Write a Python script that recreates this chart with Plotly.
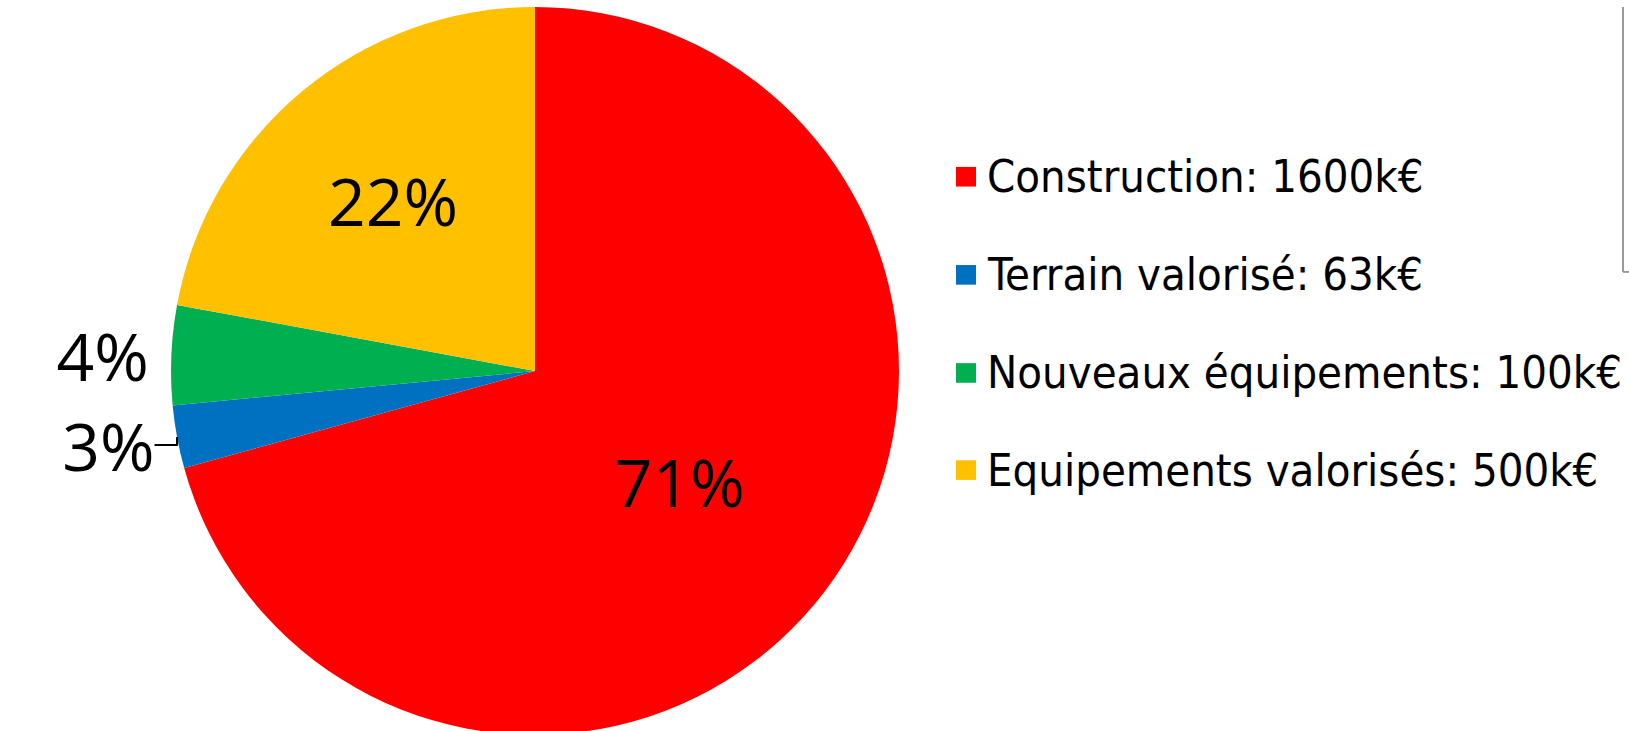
import plotly.graph_objects as go

categories = ["Construction", "Terrain valorisé", "Nouveaux équipements", "Equipements valorisés"]
values_keur = [1600, 63, 100, 500]
colors = ["#FF0000", "#0070C0", "#00B050", "#FFC000"]
label_positions = ["inside", "outside", "outside", "inside"]

W, H = 1629, 742

fig = go.Figure()
fig.add_trace(go.Pie(
    labels=categories,
    values=values_keur,
    sort=False,
    direction="clockwise",
    rotation=0,
    marker=dict(colors=colors, line=dict(width=0)),
    texttemplate="%{percent:.0%}",
    textposition=label_positions,
    insidetextorientation="horizontal",
    textfont=dict(family="Open Sans, Noto Sans, sans-serif", size=66, color="black"),
    domain=dict(x=[171 / W, 899 / W], y=[0, 1]),
    showlegend=False,
    hoverinfo="label+value+percent",
))

# Legend drawn as a column of colored squares and labels
legend_rows_px = [173, 273, 373, 472]
for cat, val, col, ypx in zip(categories, values_keur, colors, legend_rows_px):
    yc = 1 - ypx / H
    fig.add_shape(type="rect", xref="paper", yref="paper",
                  x0=956 / W, x1=976 / W, y0=yc - 10 / H, y1=yc + 10 / H,
                  fillcolor=col, line=dict(width=0))
    fig.add_annotation(xref="paper", yref="paper", x=985 / W, y=yc,
                       xanchor="left", yanchor="middle", showarrow=False,
                       text=f"{cat}: {val}k€",
                       font=dict(family="Liberation Sans Narrow, DejaVu Sans Condensed, Arial Narrow, sans-serif",
                                 size=45, color="black"))

# thin grey frame edge at the right border
fig.add_shape(type="line", xref="paper", yref="paper",
              x0=1623 / W, x1=1623 / W, y0=1, y1=1 - 270 / H,
              line=dict(color="#9a9a9a", width=2))
fig.add_shape(type="line", xref="paper", yref="paper",
              x0=1623 / W, x1=1, y0=1 - 270 / H, y1=1 - 270 / H,
              line=dict(color="#9a9a9a", width=2))

fig.update_layout(
    width=W, height=H,
    margin=dict(l=0, r=0, t=0, b=0),
    paper_bgcolor="white",
    plot_bgcolor="white",
)

fig.write_html("out.html",
               config={"displayModeBar": False},
               post_script="document.body.style.margin='0';document.body.style.overflow='hidden';document.documentElement.style.overflow='hidden';")
